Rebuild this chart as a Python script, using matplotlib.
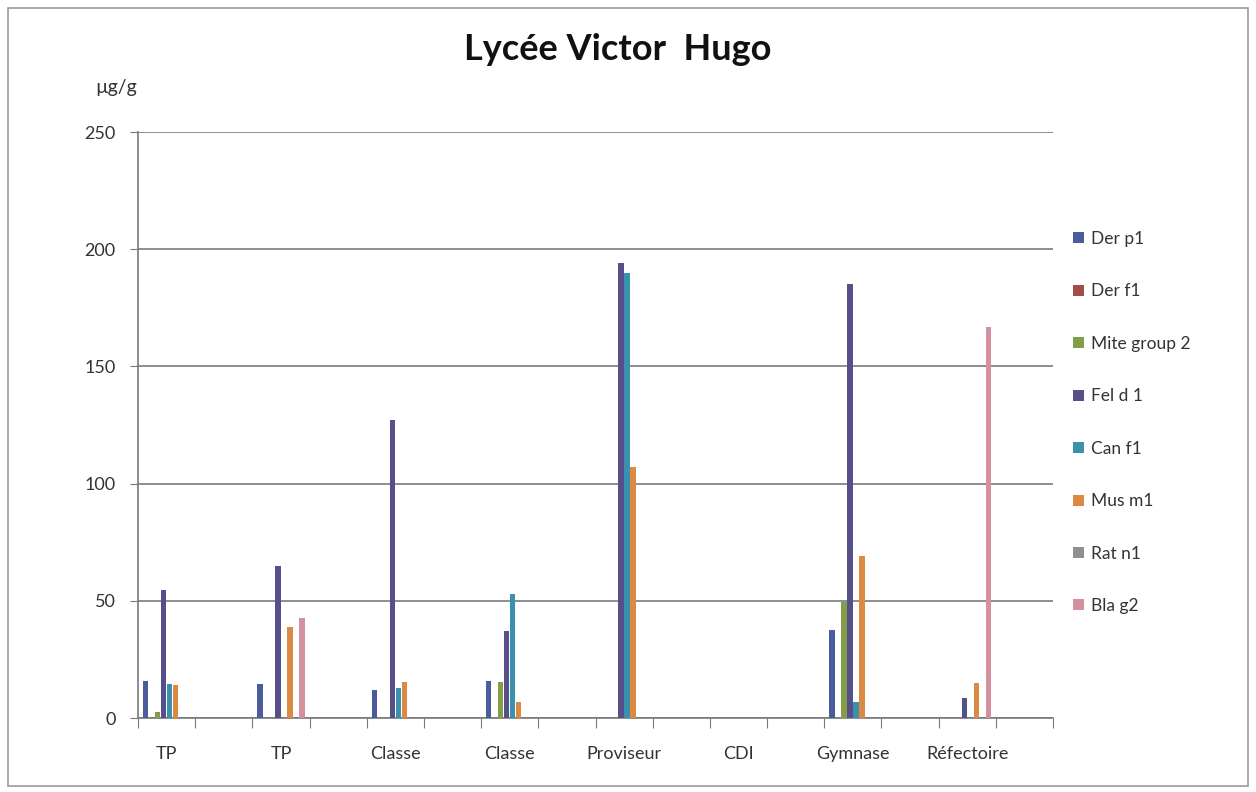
import matplotlib
matplotlib.use("Agg")
import matplotlib.pyplot as plt
import numpy as np
from matplotlib.patches import Rectangle

plt.rcParams['font.family'] = ['Lato', 'DejaVu Sans']

# sampling sites (every other slot is left unlabelled on the axis)
sites = ['TP', '', 'TP', '', 'Classe', '', 'Classe', '', 'Proviseur', '',
         'CDI', '', 'Gymnase', '', 'Réfectoire', '']

allergens = ['Der p1', 'Der f1', 'Mite group 2', 'Fel d 1',
             'Can f1', 'Mus m1', 'Rat n1', 'Bla g2']

der_p1 = [16, 0, 14.5, 0, 12, 0, 16, 0, 0, 0, 0, 0, 37.5, 0, 0, 0]
der_f1 = [0] * 16
mite_group_2 = [2.5, 0, 0, 0, 0, 0, 15.5, 0, 0, 0, 0, 0, 49.5, 0, 0, 0]
fel_d1 = [54.5, 0, 65, 0, 127, 0, 37, 0, 194, 0, 0, 0, 185, 0, 8.5, 0]
can_f1 = [14.5, 0, 0, 0, 13, 0, 53, 0, 190, 0, 0, 0, 7, 0, 0, 0]
mus_m1 = [14, 0, 39, 0, 15.5, 0, 7, 0, 107, 0, 0, 0, 69, 0, 15, 0]
rat_n1 = [0] * 16
bla_g2 = [0, 0, 42.5, 0, 0, 0, 0, 0, 0, 0, 0, 0, 0, 0, 167, 0]

series = [der_p1, der_f1, mite_group_2, fel_d1, can_f1, mus_m1, rat_n1, bla_g2]
colors = ['#4a5c9c', '#a34c48', '#839d48', '#55508a',
          '#3a91ad', '#dc8a42', '#8f8f8f', '#d4909f']

fig = plt.figure(figsize=(12.56, 7.92), dpi=100)
ax = fig.add_axes([0.1099, 0.0934, 0.7285, 0.7399])

x = np.arange(len(sites))
pitch = 0.105
start = -0.42 + pitch / 2
for k, (name, vals, c) in enumerate(zip(allergens, series, colors)):
    ax.bar(x + start + k * pitch, vals, width=0.095, color=c, label=name,
           zorder=3)

ax.set_xlim(-0.5, len(sites) - 0.5)
ax.set_ylim(0, 250)
ax.set_yticks(np.arange(0, 251, 50))
ax.yaxis.grid(True, color='#7a7a7a', linewidth=1.2, zorder=0)

# boundary ticks between slots, labels centred in the slots
ax.set_xticks(np.arange(-0.5, len(sites), 1.0))
ax.set_xticklabels([])
ax.set_xticks(x, minor=True)
ax.set_xticklabels(sites, minor=True, fontsize=13, color='#333333')
ax.tick_params(axis='x', which='major', length=7, color='#7a7a7a')
ax.tick_params(axis='x', which='minor', length=0, pad=20)
ax.tick_params(axis='y', length=6, color='#7a7a7a', labelsize=13,
               labelcolor='#333333', pad=10)

for s in ['top', 'right']:
    ax.spines[s].set_visible(False)
for s in ['left', 'bottom']:
    ax.spines[s].set_color('#7a7a7a')
    ax.spines[s].set_linewidth(1.2)

fig.text(0.492, 0.938, 'Lycée Victor  Hugo', ha='center', va='center',
         fontsize=26, fontweight='bold', color='#111111')
fig.text(0.0756, 0.889, 'µg/g', ha='left', va='center', fontsize=14,
         color='#333333')

leg = ax.legend(loc='upper left', bbox_to_anchor=(1.005, 0.858), frameon=False,
                fontsize=12.5, handlelength=0.6, handleheight=0.6,
                handletextpad=0.4, labelspacing=2.1)
for t in leg.get_texts():
    t.set_color('#333333')

fig.patches.append(Rectangle((0.006, 0.008), 0.988, 0.982,
                             transform=fig.transFigure, fill=False,
                             edgecolor='#9a9a9a', linewidth=1.2))

fig.savefig('out.png', dpi=100)
